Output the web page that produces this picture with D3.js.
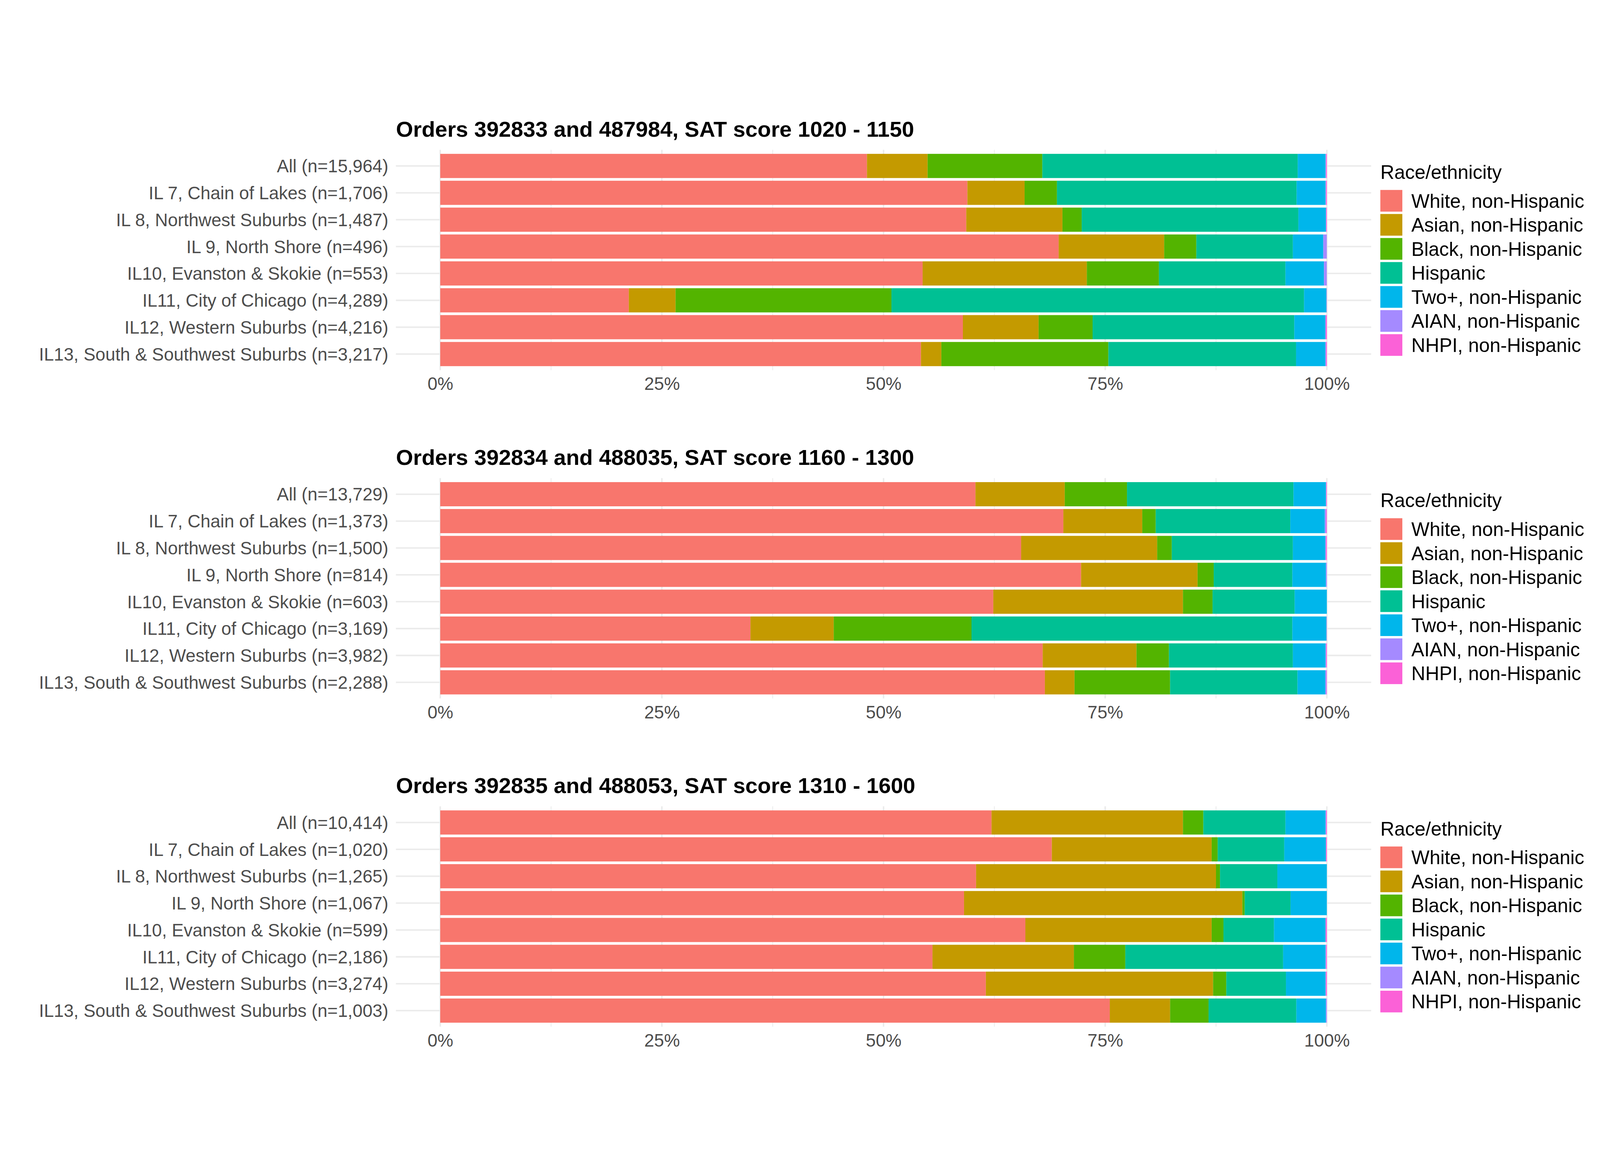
<!DOCTYPE html>
<html>
<head>
<meta charset="utf-8">
<script src="https://d3js.org/d3.v7.min.js"></script>
<style>
    html, body { margin: 0; padding: 0; background: #fff; overflow: hidden; }
    svg { display: block; width: 100vw; height: 100vh; }
    text { font-family: "Liberation Sans", Arial, Helvetica, sans-serif; }
</style>
</head>
<body>
<svg id="chart" viewBox="0 0 4800 3000" preserveAspectRatio="xMidYMid meet"></svg>
<script>
const races = [
    'White, non-Hispanic',
    'Asian, non-Hispanic',
    'Black, non-Hispanic',
    'Hispanic',
    'Two+, non-Hispanic',
    'AIAN, non-Hispanic',
    'NHPI, non-Hispanic'
];
const raceColors = ['#F8766D', '#C49A00', '#53B400', '#00C094', '#00B6EB', '#A58AFF', '#FB61D7'];

const districts = [
    'All',
    'IL 7, Chain of Lakes',
    'IL 8, Northwest Suburbs',
    'IL 9, North Shore',
    'IL10, Evanston & Skokie',
    'IL11, City of Chicago',
    'IL12, Western Suburbs',
    'IL13, South & Southwest Suburbs'
];

const panelTitles = [
    'Orders 392833 and 487984, SAT score 1020 - 1150',
    'Orders 392834 and 488035, SAT score 1160 - 1300',
    'Orders 392835 and 488053, SAT score 1310 - 1600'
];

const counts1 = [15964, 1706, 1487, 496, 553, 4289, 4216, 3217];
const counts2 = [13729, 1373, 1500, 814, 603, 3169, 3982, 2288];
const counts3 = [10414, 1020, 1265, 1067, 599, 2186, 3274, 1003];

// percent shares per district, in the order of races
const shares1 = [
    [48.13, 6.84, 12.94, 28.81, 3.14, 0.05, 0.09],
    [59.46, 6.45, 3.65, 27.03, 3.27, 0.05, 0.09],
    [59.33, 10.85, 2.17, 24.44, 3.11, 0.03, 0.07],
    [69.76, 11.9, 3.63, 10.89, 3.43, 0.4, 0],
    [54.41, 18.52, 8.13, 14.27, 4.34, 0.33, 0],
    [21.27, 5.27, 24.35, 46.54, 2.53, 0.02, 0.02],
    [58.95, 8.54, 6.09, 22.75, 3.5, 0.05, 0.12],
    [54.22, 2.3, 18.84, 21.17, 3.3, 0.09, 0.08]
];
const shares2 = [
    [60.37, 10.07, 7.02, 18.78, 3.66, 0.04, 0.06],
    [70.28, 8.9, 1.52, 15.18, 3.89, 0.15, 0.08],
    [65.52, 15.34, 1.65, 13.66, 3.66, 0.07, 0.1],
    [72.28, 13.14, 1.82, 8.87, 3.79, 0.1, 0],
    [62.38, 21.39, 3.34, 9.26, 3.63, 0, 0],
    [34.99, 9.39, 15.54, 36.19, 3.85, 0.02, 0.02],
    [67.95, 10.58, 3.66, 13.98, 3.69, 0.06, 0.08],
    [68.2, 3.34, 10.78, 14.37, 3.14, 0.13, 0.04]
];
const shares3 = [
    [62.18, 21.59, 2.3, 9.26, 4.53, 0.06, 0.08],
    [68.98, 18.03, 0.68, 7.51, 4.7, 0, 0.1],
    [60.44, 27.06, 0.45, 6.47, 5.58, 0, 0],
    [59.08, 31.39, 0.26, 5.18, 4.09, 0, 0],
    [66.0, 21.01, 1.33, 5.7, 5.82, 0, 0.14],
    [55.52, 15.95, 5.8, 17.8, 4.79, 0.05, 0.09],
    [61.54, 25.63, 1.49, 6.73, 4.47, 0.03, 0.11],
    [75.52, 6.8, 4.34, 9.9, 3.34, 0.1, 0]
];

const xTicks = [0, 0.25, 0.5, 0.75, 1];
const xMinorTicks = [0.125, 0.375, 0.625, 0.875];

const panels = [
    { title: panelTitles[0], counts: counts1, shares: shares1 },
    { title: panelTitles[1], counts: counts2, shares: shares2 },
    { title: panelTitles[2], counts: counts3, shares: shares3 }
];

const svg = d3.select('#chart');
const grid = '#ebebeb';
const axisGrey = '#4d4d4d';

const x0 = 1320.7;
const x1 = 3980.5;
const panelLeft = 1187.7;
const panelRight = 4113.5;
const panelHeight = 661;
const panelStep = 984.7;
const firstTop = 191.6;

svg.append('rect')
    .attr('width', 4800)
    .attr('height', 3000)
    .attr('fill', '#fff');

const color = d3.scaleOrdinal().domain(races).range(raceColors);
const x = d3.scaleLinear().domain([0, 1]).range([x0, x1]);
const nFormat = d3.format(',');

const stack = d3.stack()
    .keys(races)
    .offset(d3.stackOffsetExpand);

panels.forEach((panel, pi) => {
    const top = firstTop + pi * panelStep;
    const g = svg.append('g').classed('panel', true);

    const labels = districts.map((d, i) => `${d} (n=${nFormat(panel.counts[i])})`);
    const y = d3.scaleBand()
        .domain(labels)
        .range([top, top + panelHeight])
        .paddingInner(0.1)
        .paddingOuter(0.15);

    const rows = labels.map((label, i) => {
        const row = { label };
        races.forEach((r, j) => (row[r] = panel.shares[i][j]));
        return row;
    });

    // grid
    g.append('g')
        .selectAll('line')
        .data(xMinorTicks)
        .enter()
        .append('line')
        .attr('x1', d => x(d))
        .attr('x2', d => x(d))
        .attr('y1', top)
        .attr('y2', top + panelHeight)
        .attr('stroke', grid)
        .attr('stroke-width', 2.3);

    g.append('g')
        .selectAll('line')
        .data(xTicks)
        .enter()
        .append('line')
        .attr('x1', d => x(d))
        .attr('x2', d => x(d))
        .attr('y1', top)
        .attr('y2', top + panelHeight)
        .attr('stroke', grid)
        .attr('stroke-width', 4.5);

    g.append('g')
        .selectAll('line')
        .data(labels)
        .enter()
        .append('line')
        .attr('x1', panelLeft)
        .attr('x2', panelRight)
        .attr('y1', d => y(d) + y.bandwidth() / 2)
        .attr('y2', d => y(d) + y.bandwidth() / 2)
        .attr('stroke', grid)
        .attr('stroke-width', 4.5);

    // stacked bars
    g.append('g')
        .selectAll('g')
        .data(stack(rows))
        .enter()
        .append('g')
        .attr('fill', d => color(d.key))
        .selectAll('rect')
        .data(d => d)
        .enter()
        .append('rect')
        .attr('x', d => x(d[0]))
        .attr('width', d => Math.max(0, x(d[1]) - x(d[0])))
        .attr('y', d => y(d.data.label))
        .attr('height', y.bandwidth());

    // y labels
    g.append('g')
        .selectAll('text')
        .data(labels)
        .enter()
        .append('text')
        .attr('x', 1165)
        .attr('y', d => y(d) + y.bandwidth() / 2)
        .attr('dy', '0.36em')
        .attr('text-anchor', 'end')
        .attr('font-size', 53.5)
        .attr('fill', axisGrey)
        .text(d => d);

    // x axis
    const xAxis = g.append('g')
        .attr('transform', `translate(0,${top + panelHeight})`)
        .call(d3.axisBottom(x).tickValues(xTicks).tickFormat(d3.format('.0%')).tickSize(0));
    xAxis.select('.domain').remove();
    xAxis.selectAll('text')
        .attr('font-family', '"Liberation Sans", Arial, sans-serif')
        .attr('font-size', 53.5)
        .attr('fill', axisGrey)
        .attr('dy', null)
        .attr('y', 59.5);

    // title
    g.append('text')
        .attr('x', 1188)
        .attr('y', top - 39.6)
        .attr('font-size', 66)
        .attr('font-weight', 'bold')
        .attr('fill', '#000')
        .text(panel.title);

    // legend
    const legend = g.append('g').attr('transform', `translate(4141,${top})`);
    legend.append('text')
        .attr('x', 0)
        .attr('y', 87.4)
        .attr('font-size', 58)
        .attr('fill', '#000')
        .text('Race/ethnicity');

    const items = legend.selectAll('g')
        .data(races)
        .enter()
        .append('g')
        .attr('transform', (d, i) => `translate(0,${120.4 + i * 72.1})`);
    items.append('rect')
        .attr('width', 66)
        .attr('height', 65)
        .attr('fill', d => color(d));
    items.append('text')
        .attr('x', 93)
        .attr('y', 32.5)
        .attr('dy', '0.36em')
        .attr('font-size', 58)
        .attr('fill', '#000')
        .text(d => d);
});
</script>
</body>
</html>
